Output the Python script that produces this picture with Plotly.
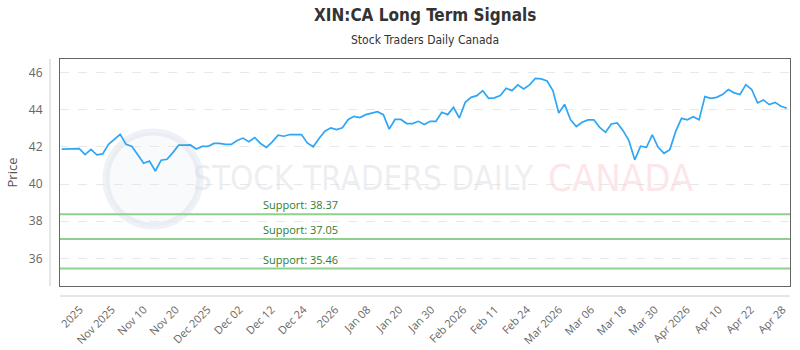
import numpy as np
import plotly.graph_objects as go

prices = [41.88, 41.88, 41.88, 41.90, 41.58, 41.86, 41.57, 41.62, 42.13, 42.41,
          42.67, 42.13, 42.02, 41.57, 41.12, 41.24, 40.70, 41.28, 41.33, 41.69,
          42.09, 42.09, 42.10, 41.88, 42.02, 42.02, 42.18, 42.18, 42.13, 42.13,
          42.34, 42.47, 42.27, 42.50, 42.18, 41.97, 42.27, 42.63, 42.57, 42.66,
          42.66, 42.66, 42.21, 42.00, 42.45, 42.84, 43.02, 42.93, 43.02, 43.47,
          43.64, 43.57, 43.73, 43.82, 43.89, 43.73, 42.95, 43.47, 43.47, 43.25,
          43.25, 43.37, 43.20, 43.37, 43.37, 43.86, 43.73, 44.12, 43.55, 44.39,
          44.66, 44.75, 45.02, 44.61, 44.63, 44.75, 45.15, 45.02, 45.33, 45.11,
          45.33, 45.68, 45.65, 45.54, 45.02, 43.82, 44.28, 43.46, 43.09, 43.32,
          43.45, 43.45, 43.05, 42.78, 43.23, 43.28, 42.87, 42.33, 41.30, 42.03,
          41.97, 42.64, 41.97, 41.65, 41.85, 42.83, 43.53, 43.45, 43.62, 43.45,
          44.70, 44.61, 44.66, 44.81, 45.08, 44.90, 44.81, 45.34, 45.08, 44.36,
          44.52, 44.27, 44.39, 44.18, 44.07]

tick_labels = ["2025", "Nov 2025", "Nov 10", "Nov 20", "Dec 2025", "Dec 02", "Dec 12",
               "Dec 24", "2026", "Jan 08", "Jan 20", "Jan 30", "Feb 2026", "Feb 11",
               "Feb 24", "Mar 2026", "Mar 06", "Mar 18", "Mar 30", "Apr 2026",
               "Apr 10", "Apr 22", "Apr 28"]

support_levels = [38.37, 37.05, 35.46]

x = list(range(len(prices)))
tick_pos = list(np.linspace(3.1, 123.3, len(tick_labels)))

COND = "DejaVu Sans Condensed, Liberation Sans Narrow, Roboto, sans-serif"
L, R, T, B = 60, 10, 59, 64
PW, PH = 800 - L - R, 350 - T - B


def px(xp):
    return (xp - L) / PW


def py(yp):
    return (350 - B - yp) / PH


fig = go.Figure()

# watermark
fig.add_shape(type="circle", xref="paper", yref="paper",
              x0=px(106), x1=px(200), y0=py(226), y1=py(132),
              line=dict(color="rgba(205,215,228,0.35)", width=7),
              fillcolor="rgba(230,235,242,0.25)", layer="below")
fig.add_annotation(xref="paper", yref="paper", x=px(363), y=py(178),
                   text="STOCK TRADERS DAILY", showarrow=False,
                   xanchor="center", yanchor="middle",
                   font=dict(family=COND, size=33, color="rgba(214,218,226,0.45)"))
fig.add_annotation(xref="paper", yref="paper", x=px(621), y=py(178),
                   text="CANADA", showarrow=False,
                   xanchor="center", yanchor="middle",
                   font=dict(family=COND, size=38, color="rgba(250,200,206,0.45)"))

fig.add_trace(go.Scatter(x=x, y=prices, mode="lines",
                         line=dict(color="#2fa6f3", width=1.7),
                         hoverinfo="skip", showlegend=False))

for lvl in support_levels:
    fig.add_shape(type="line", xref="paper", x0=0, x1=1, yref="y", y0=lvl, y1=lvl,
                  line=dict(color="#8fd08f", width=2), layer="above")
    fig.add_annotation(x=40.8, y=lvl, xref="x", yref="y", text=f"Support: {lvl:.2f}",
                       showarrow=False, xanchor="center", yanchor="bottom", yshift=0,
                       font=dict(family="Open Sans", size=11, color="#2e7d32"))

# titles
fig.add_annotation(xref="paper", yref="paper", x=0.5, y=py(15), text="<b>XIN:CA Long Term Signals</b>",
                   showarrow=False, xanchor="center", yanchor="middle",
                   font=dict(family=COND, size=17, color="#333333"))
fig.add_annotation(xref="paper", yref="paper", x=0.5, y=py(40), text="Stock Traders Daily Canada",
                   showarrow=False, xanchor="center", yanchor="middle",
                   font=dict(family=COND, size=12, color="#333333"))

# outer axis lines
fig.add_shape(type="line", xref="paper", yref="paper", x0=px(50), x1=px(50),
              y0=0, y1=1, line=dict(color="#cccccc", width=1))
fig.add_shape(type="line", xref="paper", yref="paper", x0=0, x1=1,
              y0=py(296), y1=py(296), line=dict(color="#cccccc", width=1))

fig.update_layout(
    width=800, height=350,
    margin=dict(l=L, r=R, t=T, b=B, autoexpand=False),
    paper_bgcolor="white", plot_bgcolor="white",
    xaxis=dict(range=[-0.3, 124.55], tickmode="array", tickvals=tick_pos, ticktext=tick_labels,
               tickangle=-45, showgrid=False, zeroline=False, automargin=False,
               showline=True, mirror=True, linecolor="#666666", linewidth=1,
               ticks="", ticklabelstandoff=12,
               tickfont=dict(family="Open Sans", size=11, color="#666666")),
    yaxis=dict(range=[34.52, 46.72], tickvals=[36, 38, 40, 42, 44, 46], automargin=False,
               showgrid=True, gridcolor="#e8e8e8", griddash="dash", zeroline=False,
               showline=True, mirror=True, linecolor="#666666", linewidth=1,
               ticks="", ticklabelstandoff=14,
               title=dict(text="Price", standoff=8,
                          font=dict(family="Open Sans", size=13, color="#555555")),
               tickfont=dict(family="Open Sans", size=12, color="#666666")),
)

fig.write_html("out.html")
